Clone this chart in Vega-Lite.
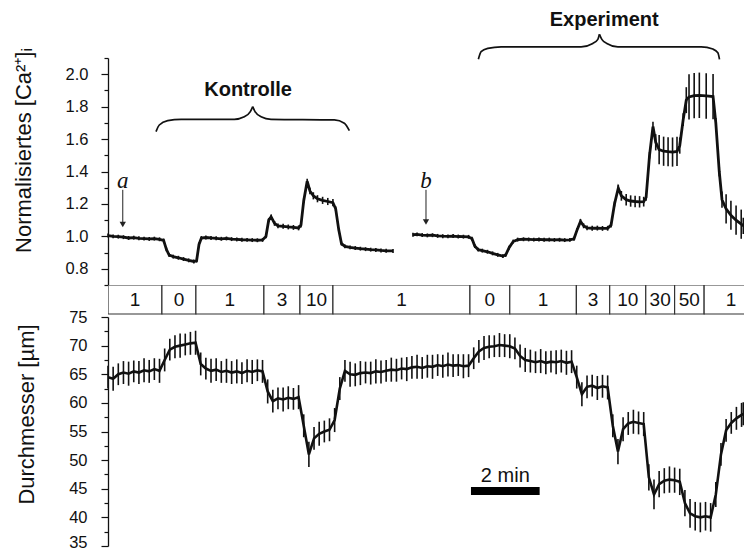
{
  "$schema": "https://vega.github.io/schema/vega-lite/v6.json",
  "padding": {"left": 11, "top": 10, "right": 0, "bottom": 0},
  "spacing": 0,
  "bounds": "flush",
  "config": {
    "view": {"stroke": null},
    "font": "Liberation Sans",
    "axis": {
      "grid": false,
      "labelFont": "Liberation Sans",
      "labelFontSize": 16.5,
      "labelColor": "#111",
      "tickColor": "#111",
      "domainColor": "#111",
      "tickWidth": 1.2,
      "domainWidth": 1.3,
      "titleFont": "Liberation Sans",
      "titleFontSize": 22,
      "titleFontWeight": "normal",
      "titleColor": "#111"
    }
  },
  "datasets": {
    "ca": [
      {"seg": "a", "t": 0.00, "v": 1.005, "e": 0.012},
      {"seg": "a", "t": 0.15, "v": 1.000, "e": 0.012},
      {"seg": "a", "t": 0.30, "v": 0.998, "e": 0.012},
      {"seg": "a", "t": 0.45, "v": 0.995, "e": 0.012},
      {"seg": "a", "t": 0.60, "v": 0.990, "e": 0.012},
      {"seg": "a", "t": 0.75, "v": 0.992, "e": 0.012},
      {"seg": "a", "t": 0.90, "v": 0.988, "e": 0.012},
      {"seg": "a", "t": 1.05, "v": 0.986, "e": 0.012},
      {"seg": "a", "t": 1.20, "v": 0.984, "e": 0.012},
      {"seg": "a", "t": 1.35, "v": 0.986, "e": 0.012},
      {"seg": "a", "t": 1.50, "v": 0.982, "e": 0.012},
      {"seg": "a", "t": 1.62, "v": 0.975, "e": 0.012},
      {"seg": "a", "t": 1.70, "v": 0.920, "e": 0.012},
      {"seg": "a", "t": 1.78, "v": 0.885, "e": 0.012},
      {"seg": "a", "t": 1.90, "v": 0.875, "e": 0.012},
      {"seg": "a", "t": 2.05, "v": 0.868, "e": 0.012},
      {"seg": "a", "t": 2.20, "v": 0.860, "e": 0.012},
      {"seg": "a", "t": 2.35, "v": 0.852, "e": 0.012},
      {"seg": "a", "t": 2.50, "v": 0.845, "e": 0.012},
      {"seg": "a", "t": 2.58, "v": 0.850, "e": 0.012},
      {"seg": "a", "t": 2.65, "v": 0.950, "e": 0.012},
      {"seg": "a", "t": 2.72, "v": 0.990, "e": 0.012},
      {"seg": "a", "t": 2.85, "v": 0.993, "e": 0.012},
      {"seg": "a", "t": 3.00, "v": 0.990, "e": 0.012},
      {"seg": "a", "t": 3.15, "v": 0.988, "e": 0.012},
      {"seg": "a", "t": 3.30, "v": 0.985, "e": 0.012},
      {"seg": "a", "t": 3.45, "v": 0.987, "e": 0.012},
      {"seg": "a", "t": 3.60, "v": 0.983, "e": 0.012},
      {"seg": "a", "t": 3.75, "v": 0.981, "e": 0.012},
      {"seg": "a", "t": 3.90, "v": 0.979, "e": 0.012},
      {"seg": "a", "t": 4.05, "v": 0.978, "e": 0.012},
      {"seg": "a", "t": 4.20, "v": 0.977, "e": 0.012},
      {"seg": "a", "t": 4.35, "v": 0.976, "e": 0.012},
      {"seg": "a", "t": 4.50, "v": 0.978, "e": 0.012},
      {"seg": "a", "t": 4.60, "v": 1.000, "e": 0.012},
      {"seg": "a", "t": 4.68, "v": 1.100, "e": 0.012},
      {"seg": "a", "t": 4.75, "v": 1.120, "e": 0.015},
      {"seg": "a", "t": 4.85, "v": 1.080, "e": 0.015},
      {"seg": "a", "t": 4.95, "v": 1.065, "e": 0.015},
      {"seg": "a", "t": 5.10, "v": 1.062, "e": 0.015},
      {"seg": "a", "t": 5.25, "v": 1.058, "e": 0.015},
      {"seg": "a", "t": 5.40, "v": 1.055, "e": 0.015},
      {"seg": "a", "t": 5.55, "v": 1.052, "e": 0.015},
      {"seg": "a", "t": 5.62, "v": 1.070, "e": 0.015},
      {"seg": "a", "t": 5.70, "v": 1.220, "e": 0.015},
      {"seg": "a", "t": 5.80, "v": 1.340, "e": 0.015},
      {"seg": "a", "t": 5.88, "v": 1.280, "e": 0.020},
      {"seg": "a", "t": 5.98, "v": 1.250, "e": 0.022},
      {"seg": "a", "t": 6.10, "v": 1.232, "e": 0.022},
      {"seg": "a", "t": 6.25, "v": 1.222, "e": 0.022},
      {"seg": "a", "t": 6.40, "v": 1.215, "e": 0.022},
      {"seg": "a", "t": 6.55, "v": 1.208, "e": 0.022},
      {"seg": "a", "t": 6.63, "v": 1.170, "e": 0.015},
      {"seg": "a", "t": 6.72, "v": 1.040, "e": 0.012},
      {"seg": "a", "t": 6.80, "v": 0.955, "e": 0.012},
      {"seg": "a", "t": 6.90, "v": 0.938, "e": 0.012},
      {"seg": "a", "t": 7.05, "v": 0.932, "e": 0.012},
      {"seg": "a", "t": 7.20, "v": 0.928, "e": 0.012},
      {"seg": "a", "t": 7.35, "v": 0.924, "e": 0.012},
      {"seg": "a", "t": 7.50, "v": 0.921, "e": 0.012},
      {"seg": "a", "t": 7.65, "v": 0.918, "e": 0.012},
      {"seg": "a", "t": 7.80, "v": 0.916, "e": 0.012},
      {"seg": "a", "t": 7.95, "v": 0.913, "e": 0.012},
      {"seg": "a", "t": 8.10, "v": 0.911, "e": 0.012},
      {"seg": "a", "t": 8.30, "v": 0.910, "e": 0.012},
      {"seg": "b", "t": 8.88, "v": 1.010, "e": 0.012},
      {"seg": "b", "t": 9.00, "v": 1.012, "e": 0.012},
      {"seg": "b", "t": 9.15, "v": 1.008, "e": 0.012},
      {"seg": "b", "t": 9.30, "v": 1.006, "e": 0.012},
      {"seg": "b", "t": 9.45, "v": 1.007, "e": 0.012},
      {"seg": "b", "t": 9.60, "v": 1.003, "e": 0.012},
      {"seg": "b", "t": 9.75, "v": 1.001, "e": 0.012},
      {"seg": "b", "t": 9.90, "v": 1.000, "e": 0.012},
      {"seg": "b", "t": 10.05, "v": 1.002, "e": 0.012},
      {"seg": "b", "t": 10.20, "v": 0.999, "e": 0.012},
      {"seg": "b", "t": 10.35, "v": 0.998, "e": 0.012},
      {"seg": "b", "t": 10.50, "v": 0.997, "e": 0.012},
      {"seg": "b", "t": 10.60, "v": 0.985, "e": 0.012},
      {"seg": "b", "t": 10.68, "v": 0.940, "e": 0.012},
      {"seg": "b", "t": 10.78, "v": 0.918, "e": 0.012},
      {"seg": "b", "t": 10.90, "v": 0.912, "e": 0.012},
      {"seg": "b", "t": 11.05, "v": 0.905, "e": 0.012},
      {"seg": "b", "t": 11.20, "v": 0.895, "e": 0.012},
      {"seg": "b", "t": 11.35, "v": 0.886, "e": 0.012},
      {"seg": "b", "t": 11.50, "v": 0.878, "e": 0.012},
      {"seg": "b", "t": 11.58, "v": 0.885, "e": 0.012},
      {"seg": "b", "t": 11.68, "v": 0.930, "e": 0.012},
      {"seg": "b", "t": 11.80, "v": 0.968, "e": 0.012},
      {"seg": "b", "t": 11.93, "v": 0.980, "e": 0.012},
      {"seg": "b", "t": 12.10, "v": 0.982, "e": 0.012},
      {"seg": "b", "t": 12.25, "v": 0.981, "e": 0.012},
      {"seg": "b", "t": 12.40, "v": 0.980, "e": 0.012},
      {"seg": "b", "t": 12.55, "v": 0.981, "e": 0.012},
      {"seg": "b", "t": 12.70, "v": 0.979, "e": 0.012},
      {"seg": "b", "t": 12.85, "v": 0.980, "e": 0.012},
      {"seg": "b", "t": 13.00, "v": 0.978, "e": 0.012},
      {"seg": "b", "t": 13.15, "v": 0.979, "e": 0.012},
      {"seg": "b", "t": 13.30, "v": 0.977, "e": 0.012},
      {"seg": "b", "t": 13.45, "v": 0.978, "e": 0.012},
      {"seg": "b", "t": 13.57, "v": 0.985, "e": 0.012},
      {"seg": "b", "t": 13.66, "v": 1.040, "e": 0.012},
      {"seg": "b", "t": 13.76, "v": 1.092, "e": 0.015},
      {"seg": "b", "t": 13.85, "v": 1.065, "e": 0.015},
      {"seg": "b", "t": 13.95, "v": 1.052, "e": 0.015},
      {"seg": "b", "t": 14.10, "v": 1.050, "e": 0.015},
      {"seg": "b", "t": 14.25, "v": 1.051, "e": 0.015},
      {"seg": "b", "t": 14.40, "v": 1.049, "e": 0.015},
      {"seg": "b", "t": 14.55, "v": 1.050, "e": 0.015},
      {"seg": "b", "t": 14.65, "v": 1.070, "e": 0.015},
      {"seg": "b", "t": 14.75, "v": 1.200, "e": 0.015},
      {"seg": "b", "t": 14.86, "v": 1.298, "e": 0.020},
      {"seg": "b", "t": 14.95, "v": 1.250, "e": 0.030},
      {"seg": "b", "t": 15.09, "v": 1.226, "e": 0.035},
      {"seg": "b", "t": 15.22, "v": 1.218, "e": 0.035},
      {"seg": "b", "t": 15.35, "v": 1.215, "e": 0.035},
      {"seg": "b", "t": 15.48, "v": 1.213, "e": 0.035},
      {"seg": "b", "t": 15.60, "v": 1.214, "e": 0.030},
      {"seg": "b", "t": 15.67, "v": 1.240, "e": 0.020},
      {"seg": "b", "t": 15.77, "v": 1.500, "e": 0.020},
      {"seg": "b", "t": 15.87, "v": 1.677, "e": 0.030},
      {"seg": "b", "t": 15.95, "v": 1.580, "e": 0.050},
      {"seg": "b", "t": 16.05, "v": 1.535, "e": 0.090},
      {"seg": "b", "t": 16.18, "v": 1.525, "e": 0.090},
      {"seg": "b", "t": 16.31, "v": 1.522, "e": 0.090},
      {"seg": "b", "t": 16.44, "v": 1.520, "e": 0.090},
      {"seg": "b", "t": 16.57, "v": 1.524, "e": 0.090},
      {"seg": "b", "t": 16.65, "v": 1.560, "e": 0.050},
      {"seg": "b", "t": 16.75, "v": 1.720, "e": 0.040},
      {"seg": "b", "t": 16.84, "v": 1.840, "e": 0.080},
      {"seg": "b", "t": 16.92, "v": 1.860, "e": 0.140},
      {"seg": "b", "t": 17.07, "v": 1.868, "e": 0.140},
      {"seg": "b", "t": 17.22, "v": 1.870, "e": 0.140},
      {"seg": "b", "t": 17.42, "v": 1.866, "e": 0.140},
      {"seg": "b", "t": 17.62, "v": 1.862, "e": 0.140},
      {"seg": "b", "t": 17.70, "v": 1.700, "e": 0.030},
      {"seg": "b", "t": 17.80, "v": 1.400, "e": 0.030},
      {"seg": "b", "t": 17.88, "v": 1.226, "e": 0.050},
      {"seg": "b", "t": 18.00, "v": 1.170, "e": 0.090},
      {"seg": "b", "t": 18.14, "v": 1.130, "e": 0.090},
      {"seg": "b", "t": 18.29, "v": 1.100, "e": 0.090},
      {"seg": "b", "t": 18.44, "v": 1.075, "e": 0.090},
      {"seg": "b", "t": 18.50, "v": 1.065, "e": 0.050}
    ],
    "dia": [
      {"t": 0.00, "v": 64.5, "e": 2.0}, {"t": 0.15, "v": 64.2, "e": 2.1}, {"t": 0.30, "v": 65.0, "e": 1.9},
      {"t": 0.45, "v": 65.3, "e": 2.0}, {"t": 0.60, "v": 65.1, "e": 2.1}, {"t": 0.75, "v": 65.5, "e": 1.9},
      {"t": 0.90, "v": 65.3, "e": 2.0}, {"t": 1.05, "v": 65.7, "e": 2.1}, {"t": 1.20, "v": 65.5, "e": 2.0},
      {"t": 1.35, "v": 65.9, "e": 1.9}, {"t": 1.50, "v": 65.6, "e": 2.1}, {"t": 1.65, "v": 67.5, "e": 2.0},
      {"t": 1.80, "v": 69.3, "e": 1.9}, {"t": 1.95, "v": 69.8, "e": 2.0}, {"t": 2.10, "v": 70.0, "e": 2.1},
      {"t": 2.25, "v": 70.2, "e": 1.9}, {"t": 2.40, "v": 70.4, "e": 2.0}, {"t": 2.55, "v": 70.5, "e": 2.1},
      {"t": 2.70, "v": 66.8, "e": 2.0}, {"t": 2.85, "v": 66.0, "e": 1.9}, {"t": 3.00, "v": 65.6, "e": 2.1},
      {"t": 3.15, "v": 65.8, "e": 2.0}, {"t": 3.30, "v": 65.4, "e": 1.9}, {"t": 3.45, "v": 65.6, "e": 2.1},
      {"t": 3.60, "v": 65.3, "e": 2.0}, {"t": 3.75, "v": 65.5, "e": 2.1}, {"t": 3.90, "v": 65.2, "e": 1.9},
      {"t": 4.05, "v": 65.6, "e": 2.0}, {"t": 4.20, "v": 65.4, "e": 2.1}, {"t": 4.35, "v": 65.7, "e": 1.9},
      {"t": 4.50, "v": 65.5, "e": 2.0}, {"t": 4.65, "v": 62.0, "e": 2.1}, {"t": 4.80, "v": 60.3, "e": 2.0},
      {"t": 4.95, "v": 60.8, "e": 1.9}, {"t": 5.10, "v": 60.6, "e": 2.1}, {"t": 5.25, "v": 60.9, "e": 2.0},
      {"t": 5.40, "v": 60.7, "e": 1.9}, {"t": 5.55, "v": 61.0, "e": 2.1}, {"t": 5.70, "v": 56.0, "e": 2.0},
      {"t": 5.85, "v": 51.0, "e": 2.2}, {"t": 6.00, "v": 53.8, "e": 2.0}, {"t": 6.15, "v": 54.6, "e": 2.1},
      {"t": 6.30, "v": 55.0, "e": 1.9}, {"t": 6.45, "v": 55.3, "e": 2.0}, {"t": 6.60, "v": 57.0, "e": 2.1},
      {"t": 6.75, "v": 62.5, "e": 2.0}, {"t": 6.90, "v": 65.6, "e": 1.9}, {"t": 7.05, "v": 65.0, "e": 2.2},
      {"t": 7.20, "v": 64.9, "e": 2.0}, {"t": 7.35, "v": 65.2, "e": 2.1}, {"t": 7.50, "v": 65.3, "e": 1.9},
      {"t": 7.65, "v": 65.2, "e": 2.0}, {"t": 7.80, "v": 65.5, "e": 2.1}, {"t": 7.95, "v": 65.4, "e": 2.0},
      {"t": 8.10, "v": 65.6, "e": 1.9}, {"t": 8.25, "v": 65.8, "e": 2.1}, {"t": 8.40, "v": 65.7, "e": 2.0},
      {"t": 8.55, "v": 66.0, "e": 1.9}, {"t": 8.70, "v": 65.9, "e": 2.1}, {"t": 8.85, "v": 66.2, "e": 2.0},
      {"t": 9.00, "v": 66.3, "e": 2.1}, {"t": 9.15, "v": 66.1, "e": 1.9}, {"t": 9.30, "v": 66.4, "e": 2.0},
      {"t": 9.45, "v": 66.3, "e": 2.1}, {"t": 9.60, "v": 66.6, "e": 1.9}, {"t": 9.75, "v": 66.4, "e": 2.0},
      {"t": 9.90, "v": 66.7, "e": 2.1}, {"t": 10.05, "v": 66.5, "e": 2.0}, {"t": 10.20, "v": 66.6, "e": 1.9},
      {"t": 10.35, "v": 66.4, "e": 2.1}, {"t": 10.50, "v": 66.5, "e": 2.0}, {"t": 10.65, "v": 67.8, "e": 1.9},
      {"t": 10.80, "v": 69.0, "e": 2.0}, {"t": 10.95, "v": 69.6, "e": 2.1}, {"t": 11.10, "v": 69.8, "e": 2.0},
      {"t": 11.25, "v": 69.9, "e": 1.9}, {"t": 11.40, "v": 70.1, "e": 2.1}, {"t": 11.55, "v": 70.0, "e": 2.0},
      {"t": 11.70, "v": 69.9, "e": 2.1}, {"t": 11.85, "v": 69.5, "e": 1.9}, {"t": 12.00, "v": 68.2, "e": 2.0},
      {"t": 12.15, "v": 67.5, "e": 2.1}, {"t": 12.30, "v": 67.3, "e": 2.0}, {"t": 12.45, "v": 67.1, "e": 1.9},
      {"t": 12.60, "v": 67.3, "e": 2.1}, {"t": 12.75, "v": 67.0, "e": 2.0}, {"t": 12.90, "v": 67.2, "e": 1.9},
      {"t": 13.05, "v": 67.1, "e": 2.1}, {"t": 13.20, "v": 67.3, "e": 2.0}, {"t": 13.35, "v": 67.0, "e": 2.1},
      {"t": 13.50, "v": 67.2, "e": 2.0}, {"t": 13.65, "v": 64.5, "e": 2.0}, {"t": 13.80, "v": 61.5, "e": 2.1},
      {"t": 13.95, "v": 62.8, "e": 2.0}, {"t": 14.10, "v": 63.0, "e": 1.9}, {"t": 14.25, "v": 62.6, "e": 2.1},
      {"t": 14.40, "v": 62.9, "e": 2.0}, {"t": 14.55, "v": 62.7, "e": 2.1}, {"t": 14.70, "v": 56.0, "e": 2.0},
      {"t": 14.85, "v": 51.5, "e": 2.2}, {"t": 15.00, "v": 55.4, "e": 2.1}, {"t": 15.15, "v": 56.4, "e": 2.0},
      {"t": 15.30, "v": 56.7, "e": 2.1}, {"t": 15.45, "v": 56.5, "e": 2.0}, {"t": 15.60, "v": 56.3, "e": 2.1},
      {"t": 15.75, "v": 47.0, "e": 2.3}, {"t": 15.90, "v": 44.0, "e": 2.6}, {"t": 16.05, "v": 45.8, "e": 2.3},
      {"t": 16.20, "v": 46.4, "e": 2.2}, {"t": 16.35, "v": 46.6, "e": 2.3}, {"t": 16.50, "v": 46.5, "e": 2.2},
      {"t": 16.65, "v": 46.2, "e": 2.3}, {"t": 16.80, "v": 42.5, "e": 2.3}, {"t": 16.95, "v": 40.7, "e": 2.5},
      {"t": 17.10, "v": 40.2, "e": 2.5}, {"t": 17.25, "v": 40.0, "e": 2.6}, {"t": 17.40, "v": 40.2, "e": 2.5},
      {"t": 17.55, "v": 40.0, "e": 2.5}, {"t": 17.70, "v": 44.0, "e": 2.2}, {"t": 17.85, "v": 51.0, "e": 2.0},
      {"t": 18.00, "v": 55.2, "e": 2.0}, {"t": 18.15, "v": 56.5, "e": 1.9}, {"t": 18.30, "v": 57.3, "e": 2.0},
      {"t": 18.45, "v": 57.9, "e": 2.1}, {"t": 18.50, "v": 58.1, "e": 2.0}
    ],
    "boxes": [
      {"c": "1", "s": 0.00, "f": 1.57},
      {"c": "0", "s": 1.57, "f": 2.56},
      {"c": "1", "s": 2.56, "f": 4.54},
      {"c": "3", "s": 4.54, "f": 5.59},
      {"c": "10", "s": 5.59, "f": 6.55},
      {"c": "1", "s": 6.55, "f": 10.54},
      {"c": "0", "s": 10.54, "f": 11.70},
      {"c": "1", "s": 11.70, "f": 13.64},
      {"c": "3", "s": 13.64, "f": 14.61},
      {"c": "10", "s": 14.61, "f": 15.66},
      {"c": "30", "s": 15.66, "f": 16.50},
      {"c": "50", "s": 16.50, "f": 17.36},
      {"c": "1", "s": 17.36, "f": 18.93}
    ],
    "braces": [
      {"g": "K1", "t": 1.398, "v": 1.646}, {"g": "K1", "t": 1.494, "v": 1.687}, {"g": "K1", "t": 1.739, "v": 1.714},
      {"g": "K1", "t": 2.127, "v": 1.722}, {"g": "K1", "t": 3.679, "v": 1.722}, {"g": "K1", "t": 3.970, "v": 1.738},
      {"g": "K1", "t": 4.145, "v": 1.769}, {"g": "K1", "t": 4.215, "v": 1.800},
      {"g": "K2", "t": 4.215, "v": 1.800}, {"g": "K2", "t": 4.282, "v": 1.769}, {"g": "K2", "t": 4.457, "v": 1.738},
      {"g": "K2", "t": 4.748, "v": 1.722}, {"g": "K2", "t": 6.592, "v": 1.718}, {"g": "K2", "t": 6.883, "v": 1.698},
      {"g": "K2", "t": 7.029, "v": 1.652},
      {"g": "E1", "t": 10.786, "v": 2.092}, {"g": "E1", "t": 10.865, "v": 2.139}, {"g": "E1", "t": 11.060, "v": 2.159},
      {"g": "E1", "t": 11.448, "v": 2.169}, {"g": "E1", "t": 13.778, "v": 2.169}, {"g": "E1", "t": 14.119, "v": 2.190},
      {"g": "E1", "t": 14.265, "v": 2.215}, {"g": "E1", "t": 14.311, "v": 2.246},
      {"g": "E2", "t": 14.311, "v": 2.246}, {"g": "E2", "t": 14.381, "v": 2.215}, {"g": "E2", "t": 14.527, "v": 2.190},
      {"g": "E2", "t": 14.847, "v": 2.169}, {"g": "E2", "t": 17.274, "v": 2.169}, {"g": "E2", "t": 17.614, "v": 2.155},
      {"g": "E2", "t": 17.760, "v": 2.132}, {"g": "E2", "t": 17.807, "v": 2.092}
    ],
    "groups": [
      {"name": "Kontrolle", "t": 4.08, "v": 1.903},
      {"name": "Experiment", "t": 14.45, "v": 2.333}
    ],
    "arrows": [
      {"lab": "a", "t": 0.43, "top": 1.287, "tip": 1.085, "head": 1.073, "tv": 1.300},
      {"lab": "b", "t": 9.26, "top": 1.287, "tip": 1.100, "head": 1.088, "tv": 1.300}
    ],
    "scalebar": [
      {"t0": 10.57, "t1": 12.57, "tm": 11.57, "v": 44.6, "tv": 46.2, "label": "2 min"}
    ]
  },
  "vconcat": [
    {
      "width": 637,
      "height": 227,
      "layer": [
        {
          "data": {"name": "ca"},
          "mark": {"type": "line", "color": "#111", "strokeWidth": 2.8, "clip": true},
          "encoding": {
            "x": {"field": "t", "type": "quantitative", "scale": {"domain": [0, 18.55], "nice": false, "zero": false}, "axis": null},
            "y": {
              "field": "v",
              "type": "quantitative",
              "title": "Normalisiertes [Ca²⁺]ᵢ",
              "scale": {"domain": [0.7, 2.1], "nice": false, "zero": false},
              "axis": {
                "orient": "left",
                "values": [0.7, 0.8, 0.9, 1.0, 1.1, 1.2, 1.3, 1.4, 1.5, 1.6, 1.7, 1.8, 1.9, 2.0, 2.1],
                "tickCount": 40,
                "labelExpr": "round(datum.value * 10) % 2 == 0 ? format(datum.value, '.1f') : ''",
                "labelOverlap": false,
                "labelFlush": false,
                "tickSize": {"condition": {"test": "round(datum.value * 10) % 2 == 0", "value": 7}, "value": 4},
                "labelPadding": 13,
                "titleAngle": -90,
                "titleAlign": "center",
                "titleBaseline": "middle",
                "titleX": -85,
                "titleY": 92
              }
            },
            "detail": {"field": "seg"}
          }
        },
        {
          "data": {"name": "ca"},
          "mark": {"type": "errorbar", "ticks": false, "thickness": 1.6, "color": "#111"},
          "encoding": {
            "x": {"field": "t", "type": "quantitative", "title": "t"},
            "y": {"field": "v", "type": "quantitative", "title": "Normalisiertes [Ca²⁺]ᵢ"},
            "yError": {"field": "e"}
          }
        },
        {
          "data": {"name": "braces"},
          "mark": {"type": "line", "color": "#111", "strokeWidth": 1.7, "interpolate": "monotone"},
          "encoding": {
            "x": {"field": "t", "type": "quantitative"},
            "y": {"field": "v", "type": "quantitative", "title": "Normalisiertes [Ca²⁺]ᵢ"},
            "detail": {"field": "g"}
          }
        },
        {
          "data": {"name": "groups"},
          "mark": {"type": "text", "font": "Liberation Sans", "fontSize": 20, "fontWeight": "bold", "color": "#111", "baseline": "middle", "align": "center"},
          "encoding": {
            "x": {"field": "t", "type": "quantitative"},
            "y": {"field": "v", "type": "quantitative", "title": "Normalisiertes [Ca²⁺]ᵢ"},
            "text": {"field": "name"}
          }
        },
        {
          "data": {"name": "arrows"},
          "mark": {"type": "rule", "color": "#222", "strokeWidth": 1},
          "encoding": {
            "x": {"field": "t", "type": "quantitative"},
            "y": {"field": "top", "type": "quantitative", "title": "Normalisiertes [Ca²⁺]ᵢ"},
            "y2": {"field": "tip"}
          }
        },
        {
          "data": {"name": "arrows"},
          "mark": {"type": "point", "shape": "triangle-down", "filled": true, "size": 40, "color": "#222", "opacity": 1},
          "encoding": {
            "x": {"field": "t", "type": "quantitative"},
            "y": {"field": "head", "type": "quantitative", "title": "Normalisiertes [Ca²⁺]ᵢ"}
          }
        },
        {
          "data": {"name": "arrows"},
          "mark": {"type": "text", "font": "Liberation Serif", "fontStyle": "italic", "fontSize": 23, "color": "#111", "baseline": "alphabetic", "align": "center"},
          "encoding": {
            "x": {"field": "t", "type": "quantitative"},
            "y": {"field": "tv", "type": "quantitative", "title": "Normalisiertes [Ca²⁺]ᵢ"},
            "text": {"field": "lab"}
          }
        }
      ]
    },
    {
      "width": 637,
      "height": 32,
      "data": {"name": "boxes"},
      "transform": [{"calculate": "(datum.s + datum.f) / 2", "as": "mid"}],
      "layer": [
        {
          "mark": {"type": "rect", "fill": "white", "stroke": "#333", "strokeWidth": 1.2, "clip": true},
          "encoding": {
            "x": {"field": "s", "type": "quantitative", "scale": {"domain": [0, 18.55], "nice": false, "zero": false}, "axis": null},
            "x2": {"field": "f"},
            "y": {"datum": 3, "type": "quantitative", "scale": {"domain": [0, 32], "nice": false, "zero": false}, "axis": null},
            "y2": {"datum": 32}
          }
        },
        {
          "mark": {"type": "text", "font": "Liberation Sans", "fontSize": 19, "color": "#111", "baseline": "middle", "align": "center"},
          "encoding": {
            "x": {"field": "mid", "type": "quantitative"},
            "y": {"datum": 17.5, "type": "quantitative"},
            "text": {"field": "c"}
          }
        }
      ]
    },
    {
      "width": 637,
      "height": 229,
      "layer": [
        {
          "data": {"name": "dia"},
          "mark": {"type": "line", "color": "#111", "strokeWidth": 2.6, "clip": true},
          "encoding": {
            "x": {"field": "t", "type": "quantitative", "scale": {"domain": [0, 18.55], "nice": false, "zero": false}, "axis": null},
            "y": {
              "field": "v",
              "type": "quantitative",
              "title": "Durchmesser [µm]",
              "scale": {"domain": [35, 75], "nice": false, "zero": false},
              "axis": {
                "orient": "left",
                "values": [35, 37.5, 40, 42.5, 45, 47.5, 50, 52.5, 55, 57.5, 60, 62.5, 65, 67.5, 70, 72.5, 75],
                "tickCount": 40,
                "labelExpr": "datum.value % 5 == 0 ? format(datum.value, 'd') : ''",
                "labelOverlap": false,
                "labelFlush": false,
                "tickSize": {"condition": {"test": "datum.value % 5 == 0", "value": 7}, "value": 4},
                "labelOffset": {"condition": {"test": "datum.value == 35", "value": -4}, "value": 0},
                "labelPadding": 14,
                "titleAngle": -90,
                "titleAlign": "center",
                "titleBaseline": "middle",
                "titleX": -82,
                "titleY": 97
              }
            }
          }
        },
        {
          "data": {"name": "dia"},
          "mark": {"type": "errorbar", "ticks": false, "thickness": 1.6, "color": "#111"},
          "encoding": {
            "x": {"field": "t", "type": "quantitative", "title": "t"},
            "y": {"field": "v", "type": "quantitative", "title": "Durchmesser [µm]"},
            "yError": {"field": "e"}
          }
        },
        {
          "data": {"name": "scalebar"},
          "mark": {"type": "rule", "color": "#000", "strokeWidth": 8, "strokeCap": "butt"},
          "encoding": {
            "x": {"field": "t0", "type": "quantitative"},
            "x2": {"field": "t1"},
            "y": {"field": "v", "type": "quantitative", "title": "Durchmesser [µm]"}
          }
        },
        {
          "data": {"name": "scalebar"},
          "mark": {"type": "text", "font": "Liberation Sans", "fontSize": 20, "color": "#111", "baseline": "alphabetic", "align": "center"},
          "encoding": {
            "x": {"field": "tm", "type": "quantitative"},
            "y": {"field": "tv", "type": "quantitative", "title": "Durchmesser [µm]"},
            "text": {"field": "label"}
          }
        }
      ]
    }
  ]
}
